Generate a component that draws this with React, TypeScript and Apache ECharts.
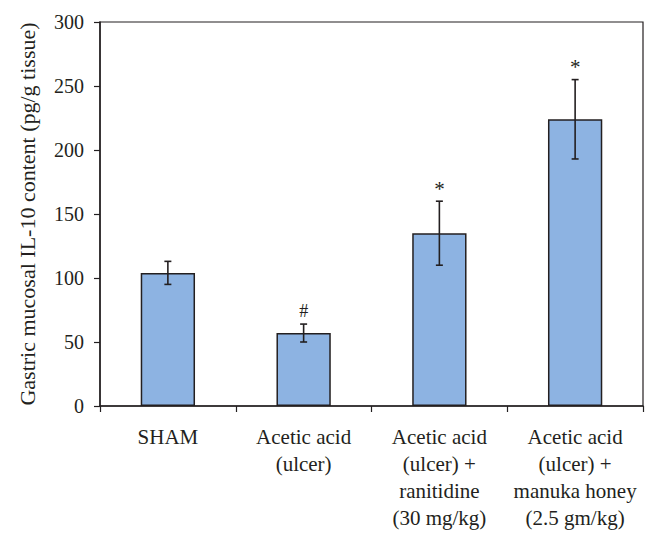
import React, { useEffect, useRef } from "react";
import * as echarts from "echarts";

const categories = [
  "SHAM",
  "Acetic acid\n(ulcer)",
  "Acetic acid\n(ulcer) +\nranitidine\n(30 mg/kg)",
  "Acetic acid\n(ulcer) +\nmanuka honey\n(2.5 gm/kg)",
];
const means = [104, 57, 135, 224];
const errors = [9, 7, 25, 31];
const marks = ["", "#", "*", "*"];
const yTicks = { min: 0, max: 300, interval: 50 };
const yTitle = "Gastric mucosal IL-10 content (pg/g tissue)";

const FONT = "'Liberation Serif', 'Times New Roman', serif";
const INK = "#231f20";

export default function App() {
  const ref = useRef<HTMLDivElement>(null);
  useEffect(() => {
    if (!ref.current) return;
    const chart = echarts.init(ref.current, undefined, { renderer: "svg" });
    const errData = means.map((m, i) => [i, m - errors[i], m + errors[i], marks[i]]);
    chart.setOption({
      animation: false,
      grid: {
        left: 91,
        right: 7,
        top: 14,
        bottom: 122,
        show: true,
        borderColor: INK,
        borderWidth: 1.2,
        backgroundColor: "transparent",
      },
      xAxis: {
        type: "category",
        data: categories,
        axisLine: { lineStyle: { color: INK, width: 1.5 } },
        axisTick: { show: true, length: 6, lineStyle: { color: INK, width: 1.2 } },
        axisLabel: {
          color: INK,
          fontFamily: FONT,
          fontSize: 21,
          lineHeight: 27,
          margin: 17,
          interval: 0,
        },
      },
      yAxis: {
        type: "value",
        min: yTicks.min,
        max: yTicks.max,
        interval: yTicks.interval,
        name: yTitle,
        nameLocation: "middle",
        nameGap: 62,
        nameTextStyle: { color: INK, fontFamily: FONT, fontSize: 22 },
        splitLine: { show: false },
        axisLine: { show: true, lineStyle: { color: INK, width: 1.5 } },
        axisTick: { show: true, length: 6, lineStyle: { color: INK, width: 1.2 } },
        axisLabel: { color: INK, fontFamily: FONT, fontSize: 20, margin: 16 },
      },
      series: [
        {
          type: "bar",
          data: means,
          barWidth: "40%",
          itemStyle: { color: "#8db3e2", borderColor: INK, borderWidth: 1.5 },
        },
        {
          type: "custom",
          data: errData,
          z: 10,
          renderItem: (params: any, api: any) => {
            const i = api.value(0);
            const lo = api.coord([i, api.value(1)]);
            const hi = api.coord([i, api.value(2)]);
            const x = lo[0];
            const w = 3.5;
            const st = { stroke: INK, lineWidth: 1.6 };
            const children: any[] = [
              { type: "line", shape: { x1: x, y1: lo[1], x2: x, y2: hi[1] }, style: st },
              { type: "line", shape: { x1: x - w, y1: lo[1], x2: x + w, y2: lo[1] }, style: st },
              { type: "line", shape: { x1: x - w, y1: hi[1], x2: x + w, y2: hi[1] }, style: st },
            ];
            const mk = marks[i];
            if (mk) {
              children.push({
                type: "text",
                x: x,
                y: hi[1] - (mk === "#" ? 4 : 2),
                style: {
                  text: mk,
                  fill: INK,
                  font: `${mk === "#" ? 18 : 21}px ${FONT}`,
                  align: "center",
                  verticalAlign: "bottom",
                },
              });
            }
            return { type: "group", children };
          },
        },
      ],
    });
    return () => chart.dispose();
  }, []);
  return <div ref={ref} style={{ width: 642, height: 523 }} />;
}
